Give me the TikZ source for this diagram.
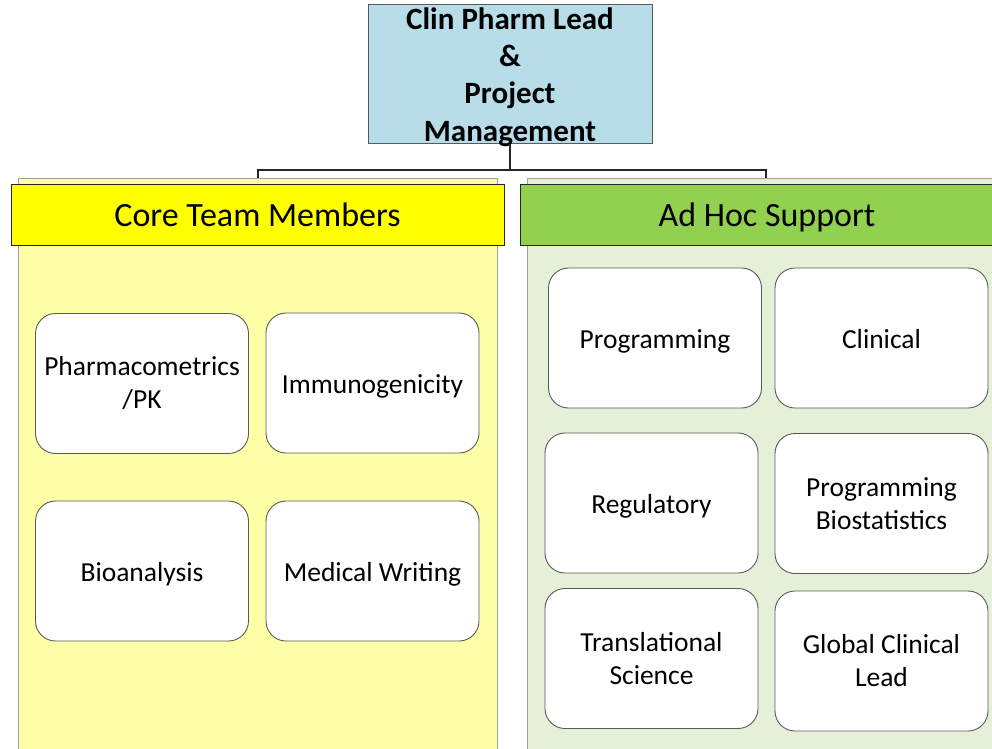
\documentclass[tikz,border=0pt]{standalone}
\usepackage{fontspec}
\setmainfont{Carlito}
\definecolor{leadblue}{HTML}{B7DDE8}
\definecolor{corepanel}{HTML}{FFFFA8}
\definecolor{corehead}{HTML}{FFFF00}
\definecolor{adhocpanel}{HTML}{E6F0D9}
\definecolor{adhochead}{HTML}{92D050}
\definecolor{edgegray}{HTML}{5A5A5A}
\definecolor{panelgray}{HTML}{A0A0A0}
\tikzset{
  leadbox/.style={draw=edgegray, line width=1pt, fill=leadblue,
    minimum width=284pt, minimum height=139pt, inner sep=0pt},
  leadtext/.style={align=center, inner sep=0pt,
    font=\fontsize{31}{37.3}\selectfont\bfseries},
  panel/.style={draw=panelgray, line width=1pt, inner sep=0pt},
  header/.style={draw=black!85, line width=1.3pt, inner sep=0pt,
    minimum height=61pt},
  headtext/.style={inner sep=0pt, text height=25pt, text depth=1.5pt,
    font=\fontsize{34}{40}\selectfont},
  rolebox/.style={draw=black!65, line width=0.9pt, fill=white, rounded corners=20pt,
    minimum width=213pt, minimum height=140pt, inner sep=0pt, align=center,
    font=\fontsize{27.5}{33}\selectfont},
  oneline/.style={text height=23pt, text depth=3pt},
  link/.style={draw=black!85, line width=1.3pt}
}
\begin{document}
\begin{tikzpicture}[x=1pt, y=-1pt]
\useasboundingbox (0,0) rectangle (992,748);
\begin{scope}
\clip (0,0) rectangle (992,748);

% lead box and its links down to both groups
\node[leadbox] (lead) at (510,73.5) {};
\node[leadtext] (leadtxt) at (510,77) {Clin Pharm Lead\\\&\\Project\\Management};
\coordinate (bus) at (510,170);
\coordinate (coretop) at (258,178);
\coordinate (adhoctop) at (766,178);
\draw[link] (lead.south) -- (bus);
\draw[link] (bus) -| (coretop);
\draw[link] (bus) -| (adhoctop);

% group panels
\node[panel, fill=corepanel, minimum width=479pt, minimum height=600pt, anchor=north west] (corebg) at (18,178) {};
\node[panel, fill=adhocpanel, minimum width=500pt, minimum height=600pt, anchor=north west] (adhocbg) at (527,178) {};

% group headers
\node[header, fill=corehead, minimum width=493pt, anchor=north west] (corehd) at (11,184) {};
\node[headtext] (corelbl) at (257.5,214.5) {Core Team Members};
\node[header, fill=adhochead, minimum width=500pt, anchor=north west] (adhochd) at (520,184) {};
\node[headtext] (adhoclbl) at (767,214.5) {Ad Hoc Support};

% core team roles
\node[rolebox] (pk) at (142,383.5) {Pharmacometrics\\/PK};
\node[rolebox, oneline] (immuno) at (372.5,383) {Immunogenicity};
\node[rolebox, oneline] (bioan) at (142,571) {Bioanalysis};
\node[rolebox, oneline] (medwr) at (372.5,571) {Medical Writing};

% ad hoc roles
\node[rolebox, oneline] (prog) at (655,338) {Programming};
\node[rolebox, oneline] (clin) at (881.5,338) {Clinical};
\node[rolebox, oneline] (reg) at (651.5,503) {Regulatory};
\node[rolebox] (biostat) at (881.5,503.5) {Programming\\Biostatistics};
\node[rolebox] (transl) at (651.5,658.5) {Translational\\Science};
\node[rolebox] (gcl) at (881.5,661) {Global Clinical\\Lead};
\end{scope}
\end{tikzpicture}
\end{document}
